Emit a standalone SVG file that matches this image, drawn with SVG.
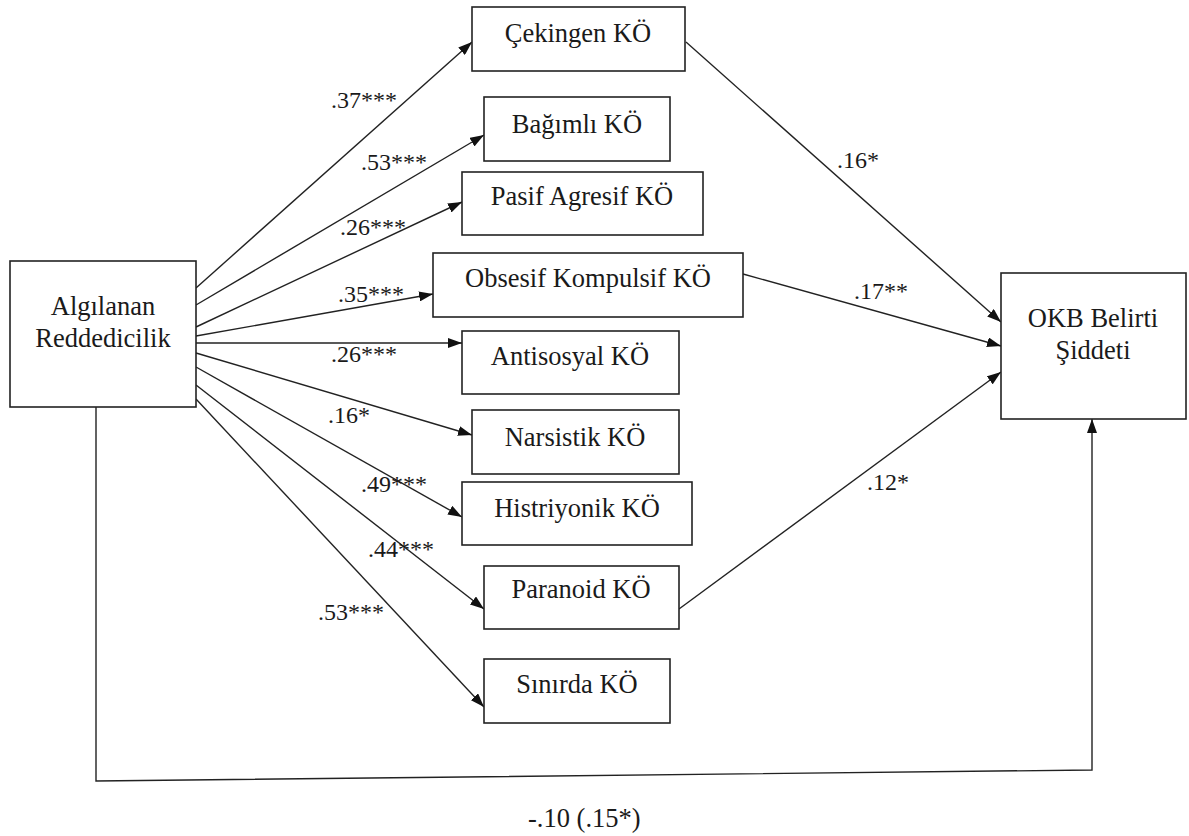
<svg xmlns="http://www.w3.org/2000/svg" width="1189" height="836" viewBox="0 0 1189 836">
<style>
.box{fill:#fff;stroke:#222;stroke-width:1.6}
.nt{font-family:'Liberation Serif',serif;font-size:26.5px;fill:#1a1a1a;text-anchor:middle}
.lb{font-family:'Liberation Serif',serif;font-size:24px;fill:#1a1a1a}
.ln{fill:none;stroke:#222;stroke-width:1.4}
</style>
<defs>
<marker id="ah" viewBox="0 0 14 10" refX="14" refY="5" markerWidth="14" markerHeight="10" markerUnits="userSpaceOnUse" orient="auto">
<path d="M0,0 L14,5 L0,10 z" fill="#111"/>
</marker>
</defs>
<rect width="1189" height="836" fill="#fff"/>
<g id="connectors">
<line class="ln" x1="196" y1="288" x2="472" y2="42" marker-end="url(#ah)"/>
<line class="ln" x1="196" y1="305" x2="484" y2="135" marker-end="url(#ah)"/>
<line class="ln" x1="196" y1="327" x2="462" y2="202" marker-end="url(#ah)"/>
<line class="ln" x1="196" y1="336" x2="433" y2="294" marker-end="url(#ah)"/>
<line class="ln" x1="196" y1="343" x2="462" y2="343" marker-end="url(#ah)"/>
<line class="ln" x1="196" y1="353" x2="472" y2="435" marker-end="url(#ah)"/>
<line class="ln" x1="196" y1="367" x2="462" y2="517" marker-end="url(#ah)"/>
<line class="ln" x1="196" y1="385" x2="484" y2="609" marker-end="url(#ah)"/>
<line class="ln" x1="196" y1="399" x2="484" y2="707" marker-end="url(#ah)"/>
<line class="ln" x1="686" y1="42" x2="1001" y2="322" marker-end="url(#ah)"/>
<line class="ln" x1="743" y1="274" x2="1001" y2="346" marker-end="url(#ah)"/>
<line class="ln" x1="679" y1="609" x2="1001" y2="372" marker-end="url(#ah)"/>
<polyline class="ln" points="96,407 96,781 1092,770 1092,419" marker-end="url(#ah)"/>
<text class="lb" style="font-family:'Liberation Serif',serif" x="331" y="108">.37***</text>
<text class="lb" style="font-family:'Liberation Serif',serif" x="361" y="170">.53***</text>
<text class="lb" style="font-family:'Liberation Serif',serif" x="340" y="235">.26***</text>
<text class="lb" style="font-family:'Liberation Serif',serif" x="338" y="302">.35***</text>
<text class="lb" style="font-family:'Liberation Serif',serif" x="331" y="362">.26***</text>
<text class="lb" style="font-family:'Liberation Serif',serif" x="328" y="423">.16*</text>
<text class="lb" style="font-family:'Liberation Serif',serif" x="361" y="492">.49***</text>
<text class="lb" style="font-family:'Liberation Serif',serif" x="368" y="557">.44***</text>
<text class="lb" style="font-family:'Liberation Serif',serif" x="318" y="620">.53***</text>
<text class="lb" style="font-family:'Liberation Serif',serif" x="837" y="168">.16*</text>
<text class="lb" style="font-family:'Liberation Serif',serif" x="854" y="299">.17**</text>
<text class="lb" style="font-family:'Liberation Serif',serif" x="867" y="490">.12*</text>
<text class="lb" style="font-family:'Liberation Serif',serif;font-size:26.5px" x="528" y="827">-.10 (.15*)</text>
</g>
<g id="algilanan">
<rect class="box" x="10" y="261" width="186" height="146"/>
<text class="nt" style="font-family:'Liberation Serif',serif" x="103" y="315">Algılanan</text>
<text class="nt" style="font-family:'Liberation Serif',serif" x="103" y="347">Reddedicilik</text>
</g>
<g id="cekingen">
<rect class="box" x="472" y="7" width="213" height="64"/>
<text class="nt" style="font-family:'Liberation Serif',serif" x="578" y="42">Çekingen KÖ</text>
</g>
<g id="bagimli">
<rect class="box" x="484" y="97" width="186" height="64"/>
<text class="nt" style="font-family:'Liberation Serif',serif" x="577" y="133">Bağımlı KÖ</text>
</g>
<g id="pasif">
<rect class="box" x="462" y="172" width="241" height="63"/>
<text class="nt" style="font-family:'Liberation Serif',serif" x="582" y="205">Pasif Agresif KÖ</text>
</g>
<g id="obsesif">
<rect class="box" x="433" y="253" width="310" height="64"/>
<text class="nt" style="font-family:'Liberation Serif',serif" x="588" y="287">Obsesif Kompulsif KÖ</text>
</g>
<g id="antisosyal">
<rect class="box" x="462" y="331" width="217" height="63"/>
<text class="nt" style="font-family:'Liberation Serif',serif" x="570" y="365">Antisosyal KÖ</text>
</g>
<g id="narsistik">
<rect class="box" x="472" y="410" width="207" height="64"/>
<text class="nt" style="font-family:'Liberation Serif',serif" x="575" y="446">Narsistik KÖ</text>
</g>
<g id="histriyonik">
<rect class="box" x="462" y="482" width="230" height="63"/>
<text class="nt" style="font-family:'Liberation Serif',serif" x="577" y="517">Histriyonik KÖ</text>
</g>
<g id="paranoid">
<rect class="box" x="484" y="566" width="195" height="63"/>
<text class="nt" style="font-family:'Liberation Serif',serif" x="581" y="598">Paranoid KÖ</text>
</g>
<g id="sinirda">
<rect class="box" x="484" y="659" width="186" height="64"/>
<text class="nt" style="font-family:'Liberation Serif',serif" x="577" y="693">Sınırda KÖ</text>
</g>
<g id="okb">
<rect class="box" x="1001" y="273" width="185" height="146"/>
<text class="nt" style="font-family:'Liberation Serif',serif" x="1093" y="327">OKB Belirti</text>
<text class="nt" style="font-family:'Liberation Serif',serif" x="1093" y="359">Şiddeti</text>
</g>
</svg>
